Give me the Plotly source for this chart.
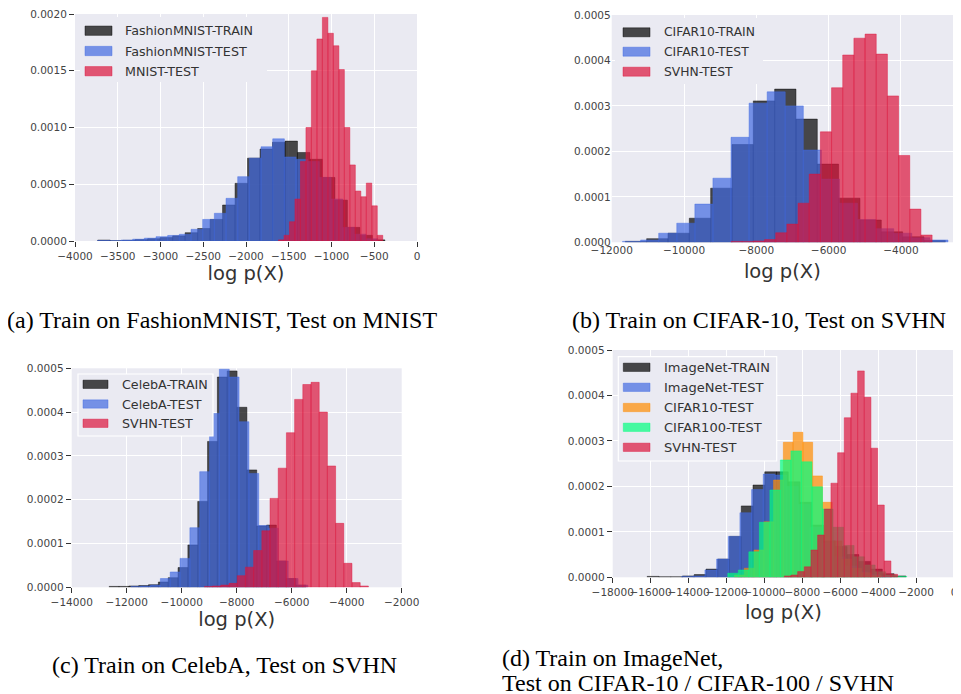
import plotly.graph_objects as go

# page body has an 8px margin: figure is drawn from (8, 8) of the 961x694 window
OFF = 8
W, H = 961 - OFF, 694 - OFF

# ---------------- DATA (density per bin; first bin edge + bin width) ----------------
# (a) Train on FashionMNIST, Test on MNIST
a_train_edge0, a_train_binw = -3734, 146
a_train = [0.000008, 0.000002, 0.000006, 0.000012, 0.00002, 0.00003, 0.000045, 0.000073,
           0.00011, 0.00019, 0.000317, 0.000508, 0.00073, 0.00081, 0.00087, 0.00088,
           0.00078, 0.00072, 0.00056, 0.00036, 0.00012, 0.00005, 0.00001]
a_test_edge0, a_test_binw = -3735, 136.5
a_test = [0.000004, 0.000002, 0.000008, 0.000016, 0.000025, 0.000038, 0.000049, 0.000059,
          0.000103, 0.00019, 0.000244, 0.000376, 0.000567, 0.00073, 0.00083, 0.0009,
          0.00074, 0.00072, 0.0007, 0.00056, 0.00037, 0.00012, 0.00006, 0.00002]
a_ood_edge0, a_ood_binw = -1620, 64.2
a_ood = [0.00001, 0.00005, 0.00017, 0.00037, 0.0007, 0.001, 0.0015, 0.00178, 0.00197,
         0.00183, 0.00172, 0.00151, 0.001, 0.00067, 0.00044, 0.00039, 0.00051, 0.00031, 0.00005]
a_labels = ["FashionMNIST-TRAIN", "FashionMNIST-TEST", "MNIST-TEST"]

# (b) Train on CIFAR-10, Test on SVHN
b_train_edge0, b_train_binw = -11623, 590
b_train = [0.000002, 0.000008, 0.00002, 0.000053, 0.000119, 0.000215, 0.000311, 0.000337,
           0.000271, 0.000172, 0.000097, 0.000049, 0.000023, 0.000012, 0.000004]
b_test_edge0, b_test_binw = -11700, 500
b_test = [0.000002, 0.000005, 0.00002, 0.000042, 0.000084, 0.000141, 0.000231, 0.000306,
          0.000331, 0.0003, 0.000203, 0.000139, 0.000086, 0.00005, 0.00003, 0.00002,
          0.00001, 0.000005]
b_ood_edge0, b_ood_binw = -8700, 309
b_ood = [0.000002, 0.000002, 0.000003, 0.000006, 0.000021, 0.00004, 0.000086, 0.00015,
         0.000243, 0.00034, 0.000412, 0.000449, 0.000458, 0.000414, 0.000322, 0.000191,
         0.000073, 0.000016]
b_labels = ["CIFAR10-TRAIN", "CIFAR10-TEST", "SVHN-TEST"]

# (c) Train on CelebA, Test on SVHN
c_train_edge0, c_train_binw = -12636, 357.6
c_train = [0.000002, 0.000002, 0.000003, 0.000004, 0.000006, 0.000012, 0.000022, 0.000045,
           0.0000967, 0.000196, 0.000333, 0.00048, 0.000494, 0.000411, 0.000268, 0.00014,
           0.000142, 0.00006, 0.00002, 0.000005]
c_test_edge0, c_test_binw = -11848, 357.6
c_test = [0.000002, 0.000003, 0.000005, 0.00002, 0.000035, 0.000066, 0.000136, 0.000264,
          0.000397, 0.000498, 0.00048, 0.000378, 0.00026, 0.000141, 0.000135, 0.00006,
          0.00002, 0.000005]
c_ood_edge0, c_ood_binw = -9172, 298
c_ood = [0.000002, 0.000003, 0.000005, 0.000009, 0.0000266, 0.000046, 0.000084, 0.000129,
         0.000203, 0.000272, 0.000353, 0.000429, 0.000463, 0.000468, 0.0004, 0.000277,
         0.000146, 0.0000548, 0.0000107, 0.000003]
c_labels = ["CelebA-TRAIN", "CelebA-TEST", "SVHN-TEST"]

# (d) Train on ImageNet, Test on CIFAR-10 / CIFAR-100 / SVHN
d_train_edge0, d_train_binw = -16180, 620
d_train = [0.000002, 0.000001, 0.000001, 0.000003, 0.000006, 0.000018, 0.00004, 0.00009,
           0.000157, 0.000203, 0.000232, 0.000232, 0.00021, 0.000165, 0.000115, 0.00008,
           0.000068, 0.00005, 0.000035, 0.000018, 0.000008, 0.000003]
d_test_edge0, d_test_binw = -14365, 615
d_test = [0.000002, 0.000003, 0.000016, 0.00004, 0.00009, 0.000142, 0.000193, 0.000227,
          0.000225, 0.0002, 0.00016, 0.00011, 0.000075, 0.000045, 0.000025, 0.000012,
          0.000006, 0.000003]
d_c10_edge0, d_c10_binw = -11575, 515
d_c10 = [0.000005, 0.00002, 0.00006, 0.000122, 0.000214, 0.000297, 0.000319, 0.000297,
         0.000223, 0.000165, 0.00008, 0.00004, 0.00002, 0.00001, 0.000004]
d_c100_edge0, d_c100_binw = -11930, 555
d_c100 = [0.000009, 0.000016, 0.000056, 0.000121, 0.000192, 0.000258, 0.000278, 0.000254,
          0.000199, 0.00015, 0.00011, 0.00007, 0.000045, 0.000027, 0.000012, 0.000005, 0.000002]
d_ood_edge0, d_ood_binw = -8950, 351.5
d_ood = [0.000003, 0.000005, 0.0000125, 0.000023, 0.00006, 0.000093, 0.00015, 0.000207,
         0.000274, 0.000351, 0.000405, 0.000454, 0.000396, 0.000284, 0.000159, 0.000036, 0.0000066]
d_labels = ["ImageNet-TRAIN", "ImageNet-TEST", "CIFAR10-TEST", "CIFAR100-TEST", "SVHN-TEST"]

captions = ["(a) Train on FashionMNIST, Test on MNIST",
            "(b) Train on CIFAR-10, Test on SVHN",
            "(c) Train on CelebA, Test on SVHN",
            "(d) Train on ImageNet,",
            "Test on CIFAR-10 / CIFAR-100 / SVHN"]
xlabel = "log p(X)"

# ---------------- STYLE ----------------
C_TRAIN = (0, 0, 0)
C_TEST = (65, 105, 225)
C_OOD = (220, 20, 60)
C_C10 = (255, 140, 0)
C_C100 = (0, 255, 127)
ALPHA = 0.7
BG = "#EAEAF2"
FONT = "DejaVu Sans"
SERIF = "Liberation Serif, Times New Roman, serif"
TICKFONT = dict(family=FONT, size=10.5, color="#444")


def rgba(c, a=ALPHA):
    return "rgba(%d,%d,%d,%.2f)" % (c[0], c[1], c[2], a)


def px(x):
    return (x - OFF) / W


def py(y):
    return 1 - (y - OFF) / H


panels = [
    dict(series=[(a_train_edge0, a_train_binw, a_train, C_TRAIN),
                 (a_test_edge0, a_test_binw, a_test, C_TEST),
                 (a_ood_edge0, a_ood_binw, a_ood, C_OOD)],
         labels=a_labels, xdom=(75, 417), ydom=(14, 241), xr=[-4000, 0], xdt=500,
         yr=[0, 0.002], ydt=0.0005, ticks=True, standoff=0,
         legend=dict(box=(80, 17, 267, 82), border=False, rows=[30.7, 51.0, 71.2],
                     patch=(85, 112), ph=9.3, tx=123, fs=12.7)),
    dict(series=[(b_train_edge0, b_train_binw, b_train, C_TRAIN),
                 (b_test_edge0, b_test_binw, b_test, C_TEST),
                 (b_ood_edge0, b_ood_binw, b_ood, C_OOD)],
         labels=b_labels, xdom=(611.7, 953), ydom=(15, 242.3), xr=[-12000, -2560], xdt=2000,
         yr=[0, 0.0005], ydt=0.0001, ticks=False, standoff=9,
         legend=dict(box=(615, 18, 763, 84), border=False, rows=[32.3, 51.7, 71.7],
                     patch=(623, 650), ph=9.0, tx=661.7, fs=12.3)),
    dict(series=[(c_train_edge0, c_train_binw, c_train, C_TRAIN),
                 (c_test_edge0, c_test_binw, c_test, C_TEST),
                 (c_ood_edge0, c_ood_binw, c_ood, C_OOD)],
         labels=c_labels, xdom=(71.7, 401.7), ydom=(368.3, 587.3), xr=[-14000, -2000], xdt=2000,
         yr=[0, 0.0005], ydt=0.0001, ticks=True, standoff=0,
         legend=dict(box=(78, 374, 213, 436), border=True, rows=[384.3, 404.0, 423.3],
                     patch=(83, 108), ph=8.3, tx=120, fs=12.7)),
    dict(series=[(d_train_edge0, d_train_binw, d_train, C_TRAIN),
                 (d_test_edge0, d_test_binw, d_test, C_TEST),
                 (d_c10_edge0, d_c10_binw, d_c10, C_C10),
                 (d_c100_edge0, d_c100_binw, d_c100, C_C100),
                 (d_ood_edge0, d_ood_binw, d_ood, C_OOD)],
         labels=d_labels, xdom=(612.7, 954), ydom=(350, 577.3), xr=[-18000, 0], xdt=2000,
         yr=[0, 0.0005], ydt=0.0001, ticks=True, standoff=8,
         legend=dict(box=(618.3, 356.7, 776.7, 461), border=True,
                     rows=[367.3, 387.3, 407.5, 427.3, 447.3],
                     patch=(623.3, 650), ph=8.3, tx=661.7, fs=13)),
]

fig = go.Figure()
shapes = []
annotations = []
layout = {}
n = len(panels)

for i, p in enumerate(panels, start=1):
    xa = "x" if i == 1 else "x%d" % i
    ya = "y" if i == 1 else "y%d" % i
    for (e0, w, hts, col), lab in zip(p["series"], p["labels"]):
        centers = [e0 + w * (k + 0.5) for k in range(len(hts))]
        fig.add_trace(go.Bar(
            x=centers, y=hts, width=[w] * len(hts), name=lab,
            marker=dict(color=rgba(col), line=dict(color=rgba(col, 0.55), width=0.8)),
            xaxis=xa, yaxis=ya, showlegend=False, hoverinfo="x+y+name"))

    common = dict(showgrid=True, gridcolor="white", gridwidth=1.3, zeroline=False,
                  showline=False, ticks="outside" if p["ticks"] else "", ticklen=5,
                  tickwidth=1, tickcolor="#333",
                  tickfont=TICKFONT, tickangle=0, automargin=False)
    xkey = "xaxis" if i == 1 else "xaxis%d" % i
    ykey = "yaxis" if i == 1 else "yaxis%d" % i
    xdom = [px(p["xdom"][0]), px(p["xdom"][1])]
    ydom = [py(p["ydom"][1]), py(p["ydom"][0])]
    layout[xkey] = dict(common, domain=xdom, range=p["xr"], dtick=p["xdt"], tick0=0,
                        tickformat="d", anchor=ya,
                        title=dict(text=xlabel, font=dict(family=FONT, size=19.5, color="#333"),
                                   standoff=p["standoff"]))
    layout[ykey] = dict(common, domain=ydom, range=p["yr"],
                        dtick=p["ydt"], tick0=0, tickformat=".4f", anchor=xa)

    if p["ticks"]:
        # tick marks on the top and right edges (no labels, no grid)
        mx = "xaxis%d" % (i + n)
        my = "yaxis%d" % (i + n)
        mirror_common = dict(showgrid=False, zeroline=False, showline=False, ticks="outside",
                             ticklen=5, tickwidth=1, tickcolor="#333", showticklabels=False)
        layout[mx] = dict(mirror_common, overlaying=xa, side="top", anchor=ya,
                          range=p["xr"], dtick=p["xdt"], tick0=0)
        layout[my] = dict(mirror_common, overlaying=ya, side="right", anchor=xa,
                          range=p["yr"], dtick=p["ydt"], tick0=0)

    lg = p["legend"]
    bx0, by0, bx1, by1 = lg["box"]
    shapes.append(dict(type="rect", xref="paper", yref="paper", layer="above",
                       x0=px(bx0), x1=px(bx1), y0=py(by1), y1=py(by0), fillcolor=BG,
                       line=dict(color="white" if lg["border"] else BG,
                                 width=1.2 if lg["border"] else 0)))
    for (e0, w, hts, col), lab, ry in zip(p["series"], p["labels"], lg["rows"]):
        shapes.append(dict(type="rect", xref="paper", yref="paper", layer="above",
                           x0=px(lg["patch"][0]), x1=px(lg["patch"][1]),
                           y0=py(ry + lg["ph"] / 2), y1=py(ry - lg["ph"] / 2),
                           fillcolor=rgba(col), line=dict(color=rgba(col, 0.55), width=0.8)))
        annotations.append(dict(text=lab, xref="paper", yref="paper", x=px(lg["tx"]), y=py(ry),
                                xanchor="left", yanchor="middle", showarrow=False,
                                font=dict(family=FONT, size=lg["fs"], color="#333")))

cap_pos = [(221.5, 320, "center"), (759, 320, "center"), (224.5, 665, "center"),
           (500, 658, "left"), (500, 683, "left")]
for txt, (cx, cy, anc) in zip(captions, cap_pos):
    annotations.append(dict(text=txt, xref="paper", yref="paper", x=px(cx), y=py(cy),
                            xanchor=anc, yanchor="middle", showarrow=False,
                            font=dict(family=SERIF, size=24, color="black")))

fig.update_layout(width=W, height=H, margin=dict(l=0, r=0, t=0, b=0), autosize=False,
                  paper_bgcolor="white", plot_bgcolor=BG, barmode="overlay",
                  shapes=shapes, annotations=annotations, **layout)

fig.write_html("out.html")
